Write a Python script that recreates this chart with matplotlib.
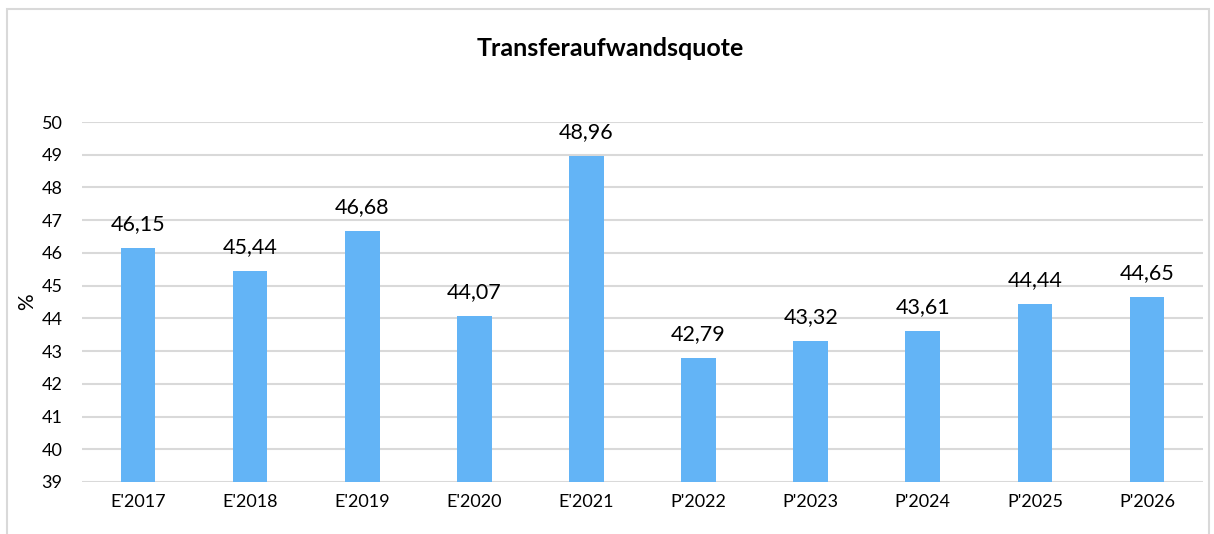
import matplotlib.pyplot as plt
from matplotlib.patches import Rectangle

plt.rcParams['font.family'] = ['Lato', 'DejaVu Sans']

categories = ["E'2017", "E'2018", "E'2019", "E'2020", "E'2021",
              "P'2022", "P'2023", "P'2024", "P'2025", "P'2026"]
values = [46.15, 45.44, 46.68, 44.07, 48.96, 42.79, 43.32, 43.61, 44.44, 44.65]
yticks = list(range(39, 51))

fig = plt.figure(figsize=(12.14, 5.34), dpi=100)
ax = fig.add_axes([0.0675, 0.0974, 0.9235, 0.6741])

x = range(len(categories))
ax.bar(x, values, width=0.31, color='#63b4f6', zorder=2, bottom=0)
ax.set_ylim(39, 50)
ax.set_xlim(-0.5, len(categories) - 0.5)
ax.set_yticks(yticks)
ax.set_xticks(list(x))
ax.set_xticklabels(categories)
ax.tick_params(axis='both', length=0, labelsize=13, colors='#000000')
ax.tick_params(axis='y', pad=14)
ax.tick_params(axis='x', pad=9)
ax.yaxis.grid(True, color='#d9d9d9', linewidth=1.5, zorder=0)
ax.set_axisbelow(True)
for s in ax.spines.values():
    s.set_visible(False)

for i, v in enumerate(values):
    ax.annotate(f"{v:.2f}".replace('.', ','), (i, v), xytext=(0, 10),
                textcoords='offset points', ha='center', va='bottom', fontsize=15.5)

ax.set_ylabel('%', fontsize=15)
ax.yaxis.set_label_coords(-0.04, 0.5)

fig.text(0.503, 0.91, 'Transferaufwandsquote', ha='center', va='center',
         fontsize=18, fontweight='bold')

# chart frame
fig.patches.append(Rectangle((7 / 1214, -0.1), 1202 / 1214, 1.1 - 9 / 534,
                             transform=fig.transFigure, fill=False,
                             edgecolor='#d9d9d9', linewidth=1.5))

fig.savefig('out.png', dpi=100)
